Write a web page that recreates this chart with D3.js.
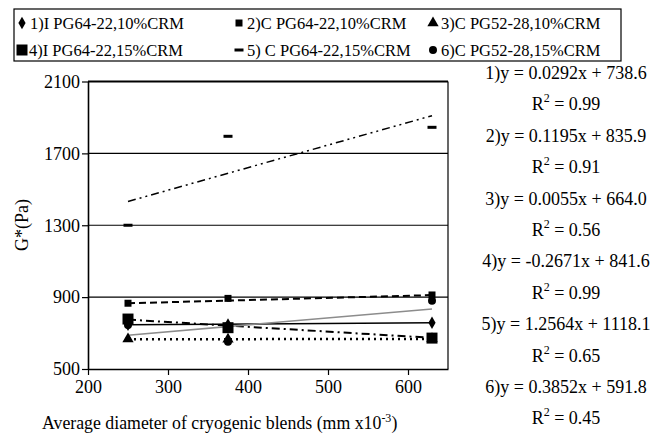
<!DOCTYPE html>
<html>
<head>
<meta charset="utf-8">
<script src="https://cdn.jsdelivr.net/npm/d3@7"></script>
<style>
    body { margin: 0; background: #fff; }
    svg text { font-family: "Liberation Serif", "Times New Roman", serif; fill: #000; }
</style>
</head>
<body>
<div id="chart"></div>
<script>
// x positions of the three blends (average diameter, mm x10^-3)
var diameters = [250, 375, 630];

// legend names
var seriesNames = [
    "1)I PG64-22,10%CRM", "2)C PG64-22,10%CRM", "3)C PG52-28,10%CRM",
    "4)I PG64-22,15%CRM", "5) C PG64-22,15%CRM", "6)C PG52-28,15%CRM"
];

// G* values (Pa)
var g1 = [746, 748, 757];
var g2 = [866, 893, 912];
var g3 = [667, 665, 668];
var g4 = [778, 730, 672];
var g5 = [1300, 1795, 1845];
var g6 = [745, 652, 880];

// linear trend lines as printed on the right
var slopes     = [0.0292, 0.1195, 0.0055, -0.2671, 1.2564, 0.3852];
var intercepts = [738.6, 835.9, 664.0, 841.6, 1118.1, 591.8];
var rSquared   = ["0.99", "0.91", "0.56", "0.99", "0.65", "0.45"];

var xTicks = [200, 300, 400, 500, 600];
var yTicks = [500, 900, 1300, 1700, 2100];

var width = 665, height = 438;
// plot area edges (note: "top" is reserved on window, so use a prefix)
var pLeft = 88, pRight = 448, pTop = 81.5, pBottom = 369;

var svg = d3.select("#chart").append("svg")
    .attr("width", width)
    .attr("height", height);

var x = d3.scaleLinear().domain([200, 650]).range([pLeft, pRight]);
var y = d3.scaleLinear().domain([500, 2100]).range([pBottom, pTop]);

//Gridlines and frame
svg.append("g").selectAll("line")
    .data(yTicks.slice(1))
    .join("line")
    .attr("x1", pLeft).attr("x2", pRight)
    .attr("y1", function(d) { return y(d); })
    .attr("y2", function(d) { return y(d); })
    .attr("stroke", "#000")
    .attr("stroke-width", function(d) { return d == 2100 ? 2 : 1.2; });

svg.append("line")
    .attr("x1", pRight).attr("x2", pRight)
    .attr("y1", pTop).attr("y2", pBottom)
    .attr("stroke", "#000").attr("stroke-width", 1.2);

//Axes
var xAxis = svg.append("g")
    .attr("transform", "translate(0," + pBottom + ")")
    .call(d3.axisBottom(x).tickValues(xTicks).tickFormat(d3.format("d"))
        .tickSize(6).tickSizeOuter(0).tickPadding(5));

var yAxis = svg.append("g")
    .attr("transform", "translate(" + pLeft + ",0)")
    .call(d3.axisLeft(y).tickValues(yTicks).tickFormat(d3.format("d"))
        .tickSize(6).tickSizeOuter(0).tickPadding(2));

[xAxis, yAxis].forEach(function(a) {
    a.attr("font-family", "Liberation Serif").attr("font-size", 18);
    a.select(".domain").attr("stroke", "#000").attr("stroke-width", 1.6);
    a.selectAll(".tick line").attr("stroke", "#000").attr("stroke-width", 1.2);
    a.selectAll(".tick text").attr("fill", "#000");
});

//Axis titles
svg.append("text")
    .attr("transform", "translate(28,225) rotate(-90)")
    .attr("text-anchor", "middle")
    .attr("font-size", 18)
    .text("G*(Pa)");

var xt = svg.append("text")
    .attr("x", 42)
    .attr("y", 429)
    .attr("font-size", 17.8);
xt.append("tspan").text("Average diameter of cryogenic blends (mm x10");
xt.append("tspan").attr("font-size", 12).attr("dy", -7).text("-3");
xt.append("tspan").attr("dy", 7).text(")");

//Trend line styles
var lineStyles = [
    { stroke: "#000", width: 1.5, dash: null },
    { stroke: "#000", width: 2, dash: "7,4" },
    { stroke: "#000", width: 2.5, dash: "2,4" },
    { stroke: "#000", width: 2, dash: "8,4,2,4" },
    { stroke: "#000", width: 1.5, dash: "8,4,2,4,2,4" },
    { stroke: "#8c8c8c", width: 1.5, dash: null }
];

var xFirst = diameters[0], xLast = diameters[diameters.length - 1];

for (var i = 0; i < slopes.length; i++) {
    var ends = [xFirst, xLast].map(function(d) { return [d, slopes[i] * d + intercepts[i]]; });
    svg.append("path")
        .attr("d", d3.line().x(function(d) { return x(d[0]); }).y(function(d) { return y(d[1]); })(ends))
        .attr("fill", "none")
        .attr("stroke", lineStyles[i].stroke)
        .attr("stroke-width", lineStyles[i].width)
        .attr("stroke-dasharray", lineStyles[i].dash);
}

//Markers
var symbols = [
    d3.symbol().type(d3.symbolDiamond).size(45),
    d3.symbol().type(d3.symbolSquare).size(49),
    d3.symbol().type(d3.symbolTriangle).size(55),
    d3.symbol().type(d3.symbolSquare).size(121),
    null,
    d3.symbol().type(d3.symbolCircle).size(50)
];

function drawMarker(g, k) {
    if (k == 4) {
        g.append("rect").attr("x", -4.5).attr("y", -1.5).attr("width", 9).attr("height", 3).attr("fill", "#000");
    } else {
        g.append("path").attr("d", symbols[k]()).attr("fill", "#000");
    }
}

var allSeries = [g1, g2, g3, g4, g5, g6];

allSeries.forEach(function(vals, k) {
    vals.forEach(function(v, j) {
        var g = svg.append("g")
            .attr("transform", "translate(" + x(diameters[j]) + "," + y(v) + ")");
        drawMarker(g, k);
    });
});

//Legend box
svg.append("rect")
    .attr("x", 14).attr("y", 9)
    .attr("width", 607).attr("height", 52)
    .attr("fill", "#fff")
    .attr("stroke", "#000")
    .attr("stroke-width", 1.2);

var legendCols = [22, 239, 433];
var legendRows = [23, 50];

seriesNames.forEach(function(name, k) {
    var cx = legendCols[k % 3], cy = legendRows[Math.floor(k / 3)];
    var g = svg.append("g").attr("transform", "translate(" + cx + "," + cy + ")");
    drawMarker(g, k);
    svg.append("text")
        .attr("x", cx + (k == 3 ? 7 : 8))
        .attr("y", cy + 6)
        .attr("font-size", 16.5)
        .text(name);
});

//Trend equations on the right
var eqX = 566;
slopes.forEach(function(s, k) {
    var cy = 73 + 31.4 * (2 * k);
    var sign = s < 0 ? "-" : "";
    svg.append("text")
        .attr("x", eqX)
        .attr("y", cy + 6)
        .attr("text-anchor", "middle")
        .attr("font-size", 18)
        .text((k + 1) + ")y = " + sign + Math.abs(s).toFixed(4) + "x + " + intercepts[k].toFixed(1));

    var r = svg.append("text")
        .attr("x", eqX)
        .attr("y", cy + 31.4 + 6)
        .attr("text-anchor", "middle")
        .attr("font-size", 18);
    r.append("tspan").text("R");
    r.append("tspan").attr("font-size", 12).attr("dy", -8).text("2");
    r.append("tspan").attr("dy", 8).text(" = " + rSquared[k]);
});
</script>
</body>
</html>
